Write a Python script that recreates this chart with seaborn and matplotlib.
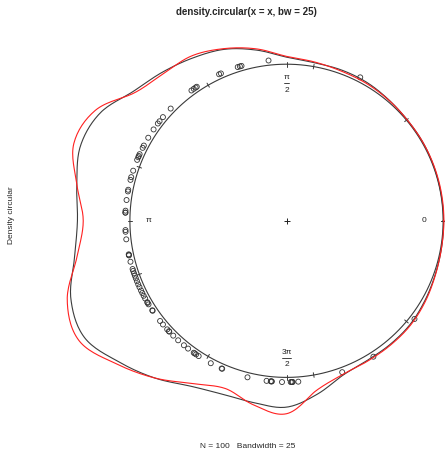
import numpy as np
import pandas as pd
import matplotlib
matplotlib.use("Agg")
import matplotlib.pyplot as plt
import seaborn as sns

sns.set_style("white")
plt.rcParams['font.family'] = ['Liberation Sans', 'DejaVu Sans']

# ---- data ----
grid_deg = np.arange(0, 360, 10)
# circular density (bw = 25), value above the unit circle
density_bw25 = np.array([0.003, 0.002, 0.003, 0.005, 0.005, 0.012, 0.022, 0.025, 0.025,
                         0.045, 0.107, 0.165, 0.200, 0.237, 0.282, 0.375, 0.400, 0.360,
                         0.335, 0.375, 0.465, 0.490, 0.400, 0.310, 0.220, 0.180, 0.180,
                         0.190, 0.125, 0.050, 0.030, 0.030, 0.030, 0.020, 0.010, 0.005])
# second (red) density curve
density_red = np.array([0.005, 0.005, 0.005, 0.005, 0.005, 0.010, 0.015, 0.018, 0.030,
                        0.050, 0.115, 0.170, 0.215, 0.225, 0.270, 0.410, 0.445, 0.360,
                        0.298, 0.360, 0.490, 0.530, 0.420, 0.310, 0.200, 0.140, 0.195,
                        0.232, 0.100, 0.045, 0.035, 0.035, 0.035, 0.025, 0.012, 0.005])
# observations (degrees)
obs_deg = [62.8, 96.4, 106.2, 106.8, 107.6, 114.0, 114.7, 123.8, 124.3, 125.1, 126.1,
           135.9, 140.0, 141.9, 142.9, 145.5, 149.0, 152.2, 153.1, 155.6, 156.3, 156.8,
           157.8, 161.9, 164.3, 165.3, 168.9, 169.5, 172.6, 176.4, 177.1, 177.1, 183.3,
           183.9, 186.6, 192.0, 192.4, 192.2, 194.7, 197.4, 198.1, 199.0, 199.9, 200.9,
           202.0, 203.2, 204.3, 205.6, 206.6, 207.7, 208.8, 210.3, 210.6, 211.2, 213.7,
           213.9, 218.4, 220.0, 222.3, 223.2, 223.4, 225.4, 227.8, 230.5, 232.4, 234.9,
           235.3, 235.9, 237.0, 242.0, 246.3, 246.5, 256.0, 262.9, 264.4, 264.8, 264.6,
           268.4, 271.5, 271.8, 272.0, 272.2, 274.2, 290.2, 302.6, 322.5]
tick_deg = np.arange(0, 360, 40)
axis_deg = [0, 90, 180, 270]
title = "density.circular(x = x, bw = 25)"
subtitle = "N = 100   Bandwidth = 25"
ylabel = "Density circular"


def closed_curve(deg, vals, sub=16):
    """Smooth closed rendering of periodic samples (Catmull-Rom)."""
    v = np.asarray(vals, float)
    n = len(v)
    th_out, r_out = [], []
    step = 360.0 / n
    for i in range(n):
        p0, p1, p2, p3 = v[(i - 1) % n], v[i], v[(i + 1) % n], v[(i + 2) % n]
        t = np.linspace(0, 1, sub, endpoint=False)
        r = 0.5 * (2 * p1 + (-p0 + p2) * t + (2 * p0 - 5 * p1 + 4 * p2 - p3) * t ** 2
                   + (-p0 + 3 * p1 - 3 * p2 + p3) * t ** 3)
        th_out.append(deg[i] + step * t)
        r_out.append(r)
    th = np.deg2rad(np.concatenate(th_out))
    r = 1 + np.concatenate(r_out)
    th = np.append(th, th[0]); r = np.append(r, r[0])
    return pd.DataFrame({"x": r * np.cos(th), "y": r * np.sin(th)})


fig = plt.figure(figsize=(4.45, 4.51), dpi=100)
ax = fig.add_axes([0, 0, 1, 1])
ax.set_xlim(-1.8295, 1.0121)
ax.set_ylim(-1.470, 1.410)
ax.axis("off")

axis_col = "#3a3a3a"
# unit circle
th = np.linspace(0, 2 * np.pi, 400)
circ = pd.DataFrame({"x": np.cos(th), "y": np.sin(th)})
sns.lineplot(data=circ, x="x", y="y", sort=False, estimator=None, color=axis_col,
             lw=0.8, ax=ax)

# ticks
for d in list(tick_deg) + axis_deg:
    a = np.deg2rad(d)
    ax.plot([0.985 * np.cos(a), 1.015 * np.cos(a)], [0.985 * np.sin(a), 1.015 * np.sin(a)],
            color=axis_col, lw=0.7)

# axis labels inside circle
fs = 6
tc = "#222222"
ax.text(0.875, 0, "0", ha="center", va="center", fontsize=fs, color=tc)
ax.text(-0.878, 0, "\u03c0", ha="center", va="center", fontsize=fs, color=tc)
# pi/2
ax.text(0, 0.912, "\u03c0", ha="center", va="center", fontsize=fs, color=tc)
ax.plot([-0.016, 0.016], [0.878, 0.878], color=tc, lw=0.6)
ax.text(0, 0.835, "2", ha="center", va="center", fontsize=fs, color=tc)
# 3pi/2
ax.text(0, -0.841, "3\u03c0", ha="center", va="center", fontsize=fs, color=tc)
ax.plot([-0.026, 0.026], [-0.879, -0.879], color=tc, lw=0.6)
ax.text(0, -0.920, "2", ha="center", va="center", fontsize=fs, color=tc)
ax.plot([0], [0], marker="+", color=tc, ms=4, mew=0.7)

# density curves
cb = closed_curve(grid_deg, density_bw25)
sns.lineplot(data=cb, x="x", y="y", sort=False, estimator=None, color="#3c3c3c", lw=0.8, ax=ax)
cr = closed_curve(grid_deg, density_red)
sns.lineplot(data=cr, x="x", y="y", sort=False, estimator=None, color="#ff2020", lw=0.8, ax=ax)

# observations
oa = np.deg2rad(np.array(obs_deg))
pts = pd.DataFrame({"x": 1.03 * np.cos(oa), "y": 1.03 * np.sin(oa)})
sns.scatterplot(data=pts, x="x", y="y", marker="o", s=13, facecolors="none",
                edgecolor="#333333", linewidth=0.6, ax=ax)

fig.text(246.7 / 445, 1 - 12.3 / 451, title, ha="center", va="center",
         fontsize=7, fontweight="bold")
fig.text(247.5 / 445, 1 - 446 / 451, subtitle, ha="center", va="center", fontsize=6)
fig.text(12 / 445, 1 - 215 / 451, ylabel, ha="center", va="center", rotation=90, fontsize=6)

fig.savefig("out.png", dpi=100)
